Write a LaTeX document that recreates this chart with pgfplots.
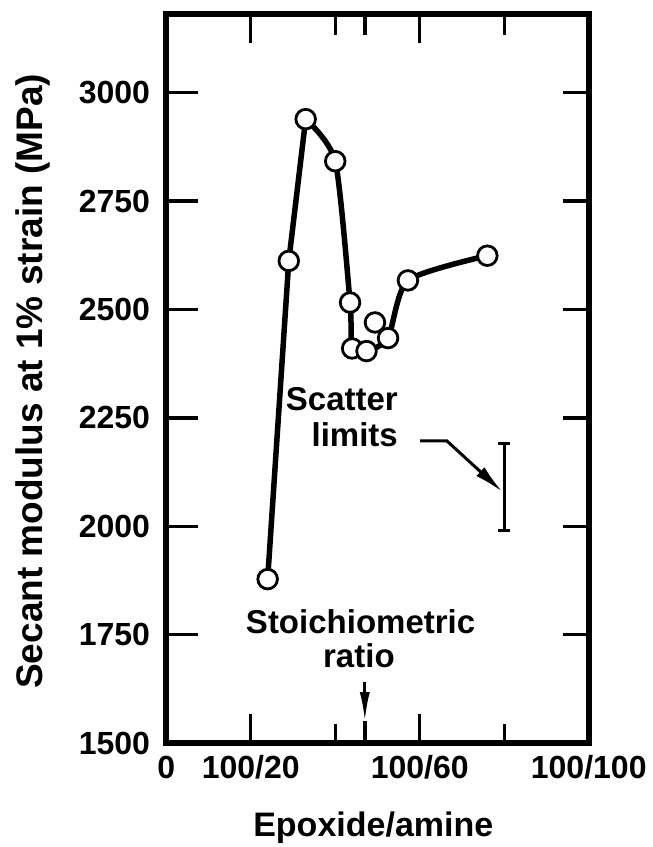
\documentclass[border=0pt]{standalone}
\usepackage{fontspec}
\setmainfont{Liberation Sans}
\newfontfamily\lab{Liberation Sans}
\usepackage{pgfplots}
\pgfplotsset{compat=1.18}
\usetikzlibrary{arrows.meta}

\newcommand{\fs}[1]{\lab\bfseries\fontsize{#1}{#1}\selectfont}

\begin{document}
\begin{tikzpicture}[tk/.style={line width=3.4pt}]
\path[use as bounding box] (0pt,0pt) rectangle (653pt,847pt);
\begin{axis}[
  at={(166.25pt,104pt)}, anchor=south west,
  scale only axis, width=422.5pt, height=729pt,
  xmin=0, xmax=100, ymin=1500, ymax=3181.5,
  axis line style={line width=5.5pt, line cap=rect},
  xtick={0,20,60,100}, xticklabels={0,100/20,100/60,100/100},
  ytick={1500,1750,2000,2250,2500,2750,3000},
  yticklabels={1500,1750,2000,2250,2500,2750,3000},
  major tick length=0pt,
  tick style={draw=none},
  xticklabel style={anchor=base, yshift=-35pt, inner sep=0pt, font=\fs{32}},
  yticklabel style={anchor=east, xshift=-16pt, inner sep=0pt, font=\fs{32}},
  xlabel={Epoxide/amine},
  ylabel={Secant modulus at 1\% strain (MPa)},
  every axis x label/.style={at={(axis description cs:0.490,-0.1285)}, anchor=base, inner sep=0pt, font=\fs{34}},
  every axis y label/.style={at={(axis description cs:-0.294,0.496)}, rotate=90, anchor=base, inner sep=0pt, font=\fs{37}},
  clip=false,
]

% inward ticks, left and right
\draw[tk] (axis cs:0,1750) -- ++(32pt,0pt);
\draw[tk] (axis cs:0,2000) -- ++(32pt,0pt);
\draw[tk] (axis cs:0,2250) -- ++(32pt,0pt);
\draw[tk] (axis cs:0,2500) -- ++(32pt,0pt);
\draw[tk] (axis cs:0,2750) -- ++(32pt,0pt);
\draw[tk] (axis cs:0,3000) -- ++(32pt,0pt);
\draw[tk] (axis cs:100,1750) -- ++(-26pt,0pt);
\draw[tk] (axis cs:100,2000) -- ++(-26pt,0pt);
\draw[tk] (axis cs:100,2250) -- ++(-26pt,0pt);
\draw[tk] (axis cs:100,2500) -- ++(-26pt,0pt);
\draw[tk] (axis cs:100,2750) -- ++(-26pt,0pt);
\draw[tk] (axis cs:100,3000) -- ++(-26pt,0pt);
% inward ticks, bottom and top
\draw[tk] (axis cs:20,1500) -- ++(0pt,29pt);
\draw[tk] (axis cs:40,1500) -- ++(0pt,19pt);
\draw[tk] (axis cs:47,1500) -- ++(0pt,22pt);
\draw[tk] (axis cs:60,1500) -- ++(0pt,29pt);
\draw[tk] (axis cs:80,1500) -- ++(0pt,19pt);
\draw[tk] (axis cs:20,3181.5) -- ++(0pt,-29pt);
\draw[tk] (axis cs:40,3181.5) -- ++(0pt,-21pt);
\draw[tk] (axis cs:47,3181.5) -- ++(0pt,-21pt);
\draw[tk] (axis cs:60,3181.5) -- ++(0pt,-29pt);
\draw[tk] (axis cs:80,3181.5) -- ++(0pt,-21pt);

% fitted curve: steep rise, then a smooth run through the rest
\addplot[line width=5.5pt, line join=round] coordinates {
  (24,1878) (29,2612) (33,2939)
};
\addplot[line width=5.5pt, smooth, tension=0.4] coordinates {
  (33,2939) (40,2842) (43.5,2516) (44,2410)
  (47.4,2404) (52.5,2434) (57.2,2567) (76,2624)
};
% measured points
\addplot[only marks, mark=*, mark size=9.8pt,
  mark options={fill=white, draw=black, line width=2.8pt}] coordinates {
  (24,1878) (29,2612) (33,2939) (40,2842) (43.5,2516) (44,2410)
  (47.4,2404) (49.4,2470) (52.5,2434) (57.2,2567) (76,2624)
};

% scatter limits bar
\addplot[line width=3.2pt, mark=-, mark size=6pt, mark options={line width=3.2pt}]
  coordinates {(80,1990) (80,2190)};
\draw[line width=3pt, -{Latex[length=30pt, width=12pt]}]
  (axis cs:60.1,2197) -- (axis cs:66.4,2197) -- (axis cs:79.6,2079);
\node[anchor=base east, inner sep=0pt, font=\fs{33}] at (axis cs:54.85,2266.5) {Scatter};
\node[anchor=base east, inner sep=0pt, font=\fs{33}] at (axis cs:54.85,2183.5) {limits};

% stoichiometric ratio marker
\draw[line width=3pt, -{Latex[length=30pt, width=10pt]}]
  (axis cs:47,1641) -- (axis cs:47,1548);
\node[anchor=base, inner sep=0pt, font=\fs{33}] at (axis cs:46,1753) {Stoichiometric};
\node[anchor=base, inner sep=0pt, font=\fs{33}] at (axis cs:45.6,1673) {ratio};
\end{axis}
\end{tikzpicture}
\end{document}
